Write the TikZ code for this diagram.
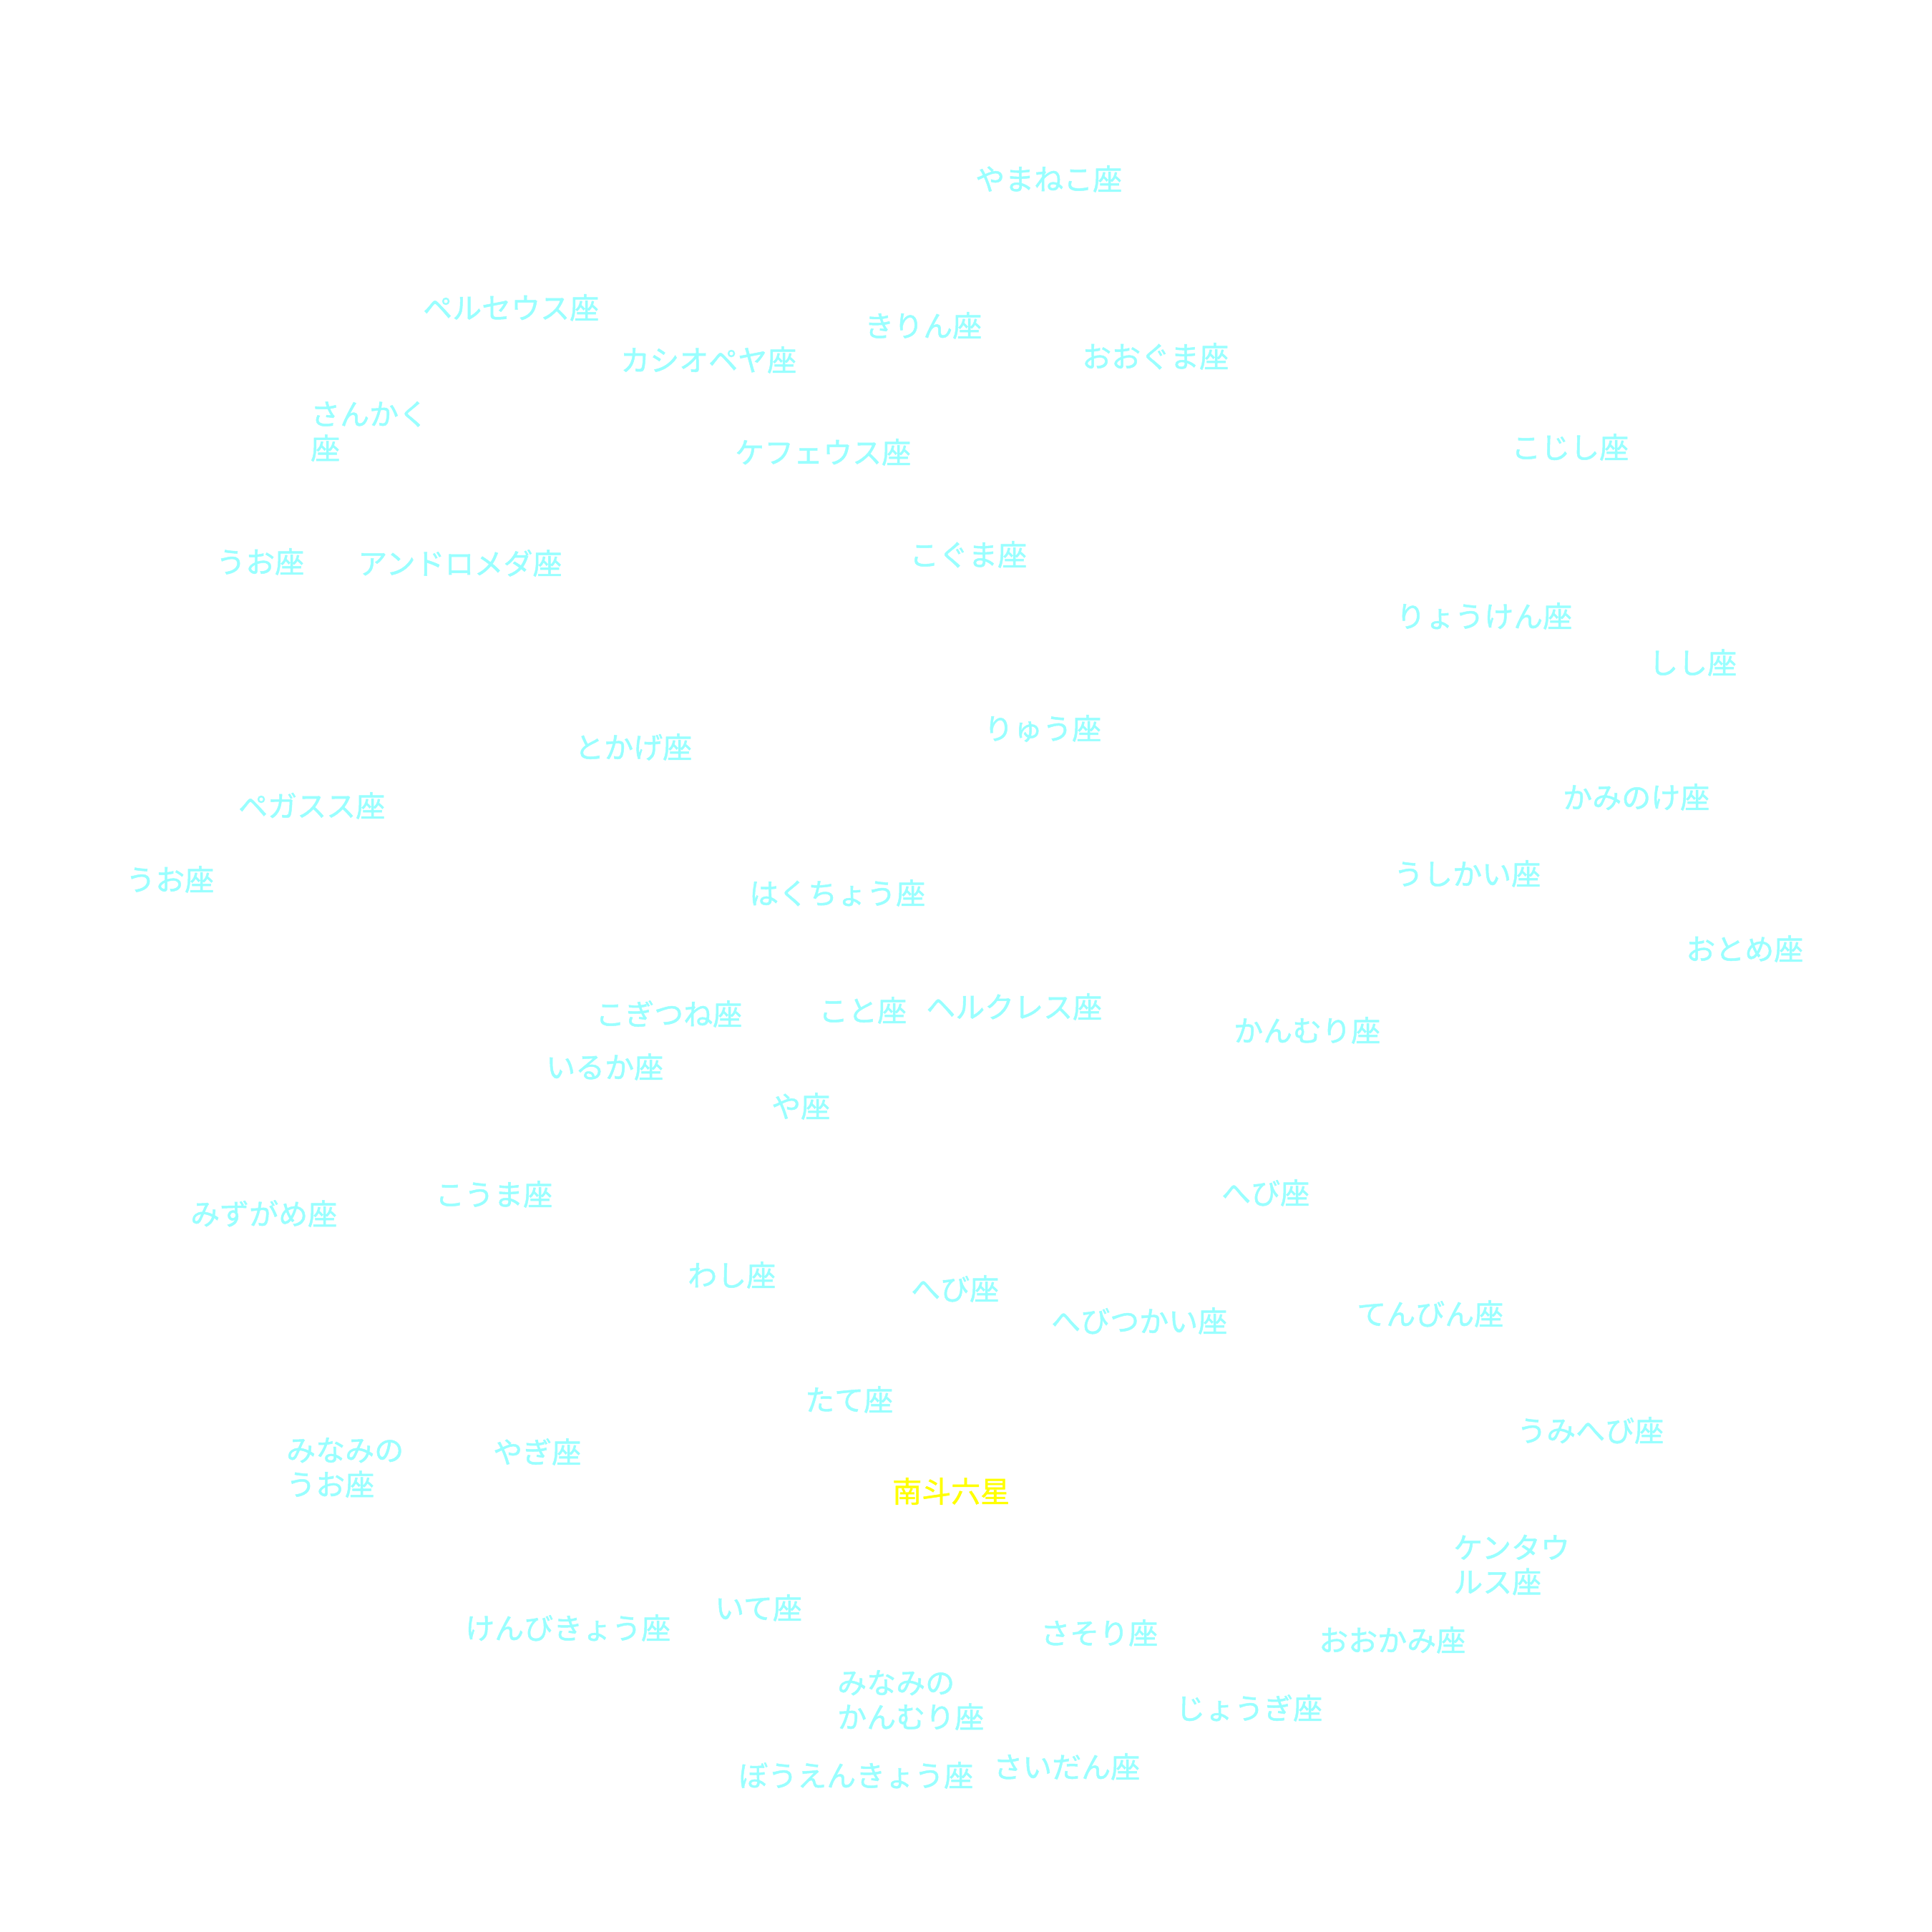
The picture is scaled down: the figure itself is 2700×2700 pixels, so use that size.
\documentclass[tikz,border=0pt]{standalone}
\usepackage{fontspec}
\newfontfamily\jp[FakeBold=1.2]{Noto Sans CJK JP}
\definecolor{lbl}{RGB}{153,255,255}
\definecolor{hl}{RGB}{255,255,0}
\begin{document}
\begin{tikzpicture}[x=1pt,y=-1pt,
  lab/.style={anchor=west,inner sep=0pt,text=lbl,font=\jp\fontsize{41}{48}\selectfont,align=left,xshift=-3pt},
  hlab/.style={lab,text=hl}]
\useasboundingbox (0,0) rectangle (2700,2700);
\node[lab] (n1) at (1366,250) {やまねこ座};
\node[lab] (n2) at (594,430) {ペルセウス座};
\node[lab] (n3) at (1211,455) {きりん座};
\node[lab] (n4) at (870,503) {カシオペヤ座};
\node[lab] (n5) at (1515,498) {おおぐま座};
\node[lab] (n6) at (437,603) {さんかく\\座};
\node[lab] (n7) at (1030,632) {ケフェウス座};
\node[lab] (n8) at (2115,625) {こじし座};
\node[lab] (n9) at (305,785) {うお座};
\node[lab] (n10) at (503,787) {アンドロメダ座};
\node[lab] (n11) at (1274,775) {こぐま座};
\node[lab] (n12) at (1954,861) {りょうけん座};
\node[lab] (n13) at (2307,926) {しし座};
\node[lab] (n14) at (1378,1018) {りゅう座};
\node[lab] (n15) at (806,1044) {とかげ座};
\node[lab] (n16) at (336,1126) {ペガスス座};
\node[lab] (n17) at (2187,1114) {かみのけ座};
\node[lab] (n18) at (179,1229) {うお座};
\node[lab] (n19) at (1951,1221) {うしかい座};
\node[lab] (n20) at (1050,1248) {はくちょう座};
\node[lab] (n21) at (2359,1326) {おとめ座};
\node[lab] (n22) at (835,1417) {こぎつね座};
\node[lab] (n23) at (1147,1412) {こと座};
\node[lab] (n24) at (1297,1407) {ヘルクレス座};
\node[lab] (n25) at (1727,1440) {かんむり座};
\node[lab] (n26) at (766,1491) {いるか座};
\node[lab] (n27) at (1081,1546) {や座};
\node[lab] (n28) at (1710,1667) {へび座};
\node[lab] (n29) at (611,1669) {こうま座};
\node[lab] (n30) at (269,1696) {みずがめ座};
\node[lab] (n31) at (964,1782) {わし座};
\node[lab] (n32) at (1276,1801) {へび座};
\node[lab] (n33) at (1472,1846) {へびつかい座};
\node[lab] (n34) at (1899,1836) {てんびん座};
\node[lab] (n35) at (1128,1956) {たて座};
\node[lab] (n36) at (403,2051) {みなみの\\うお座};
\node[lab] (n37) at (692,2029) {やぎ座};
\node[lab] (n38) at (2123,1999) {うみへび座};
\node[hlab] (n39) at (1250,2084) {南斗六星};
\node[lab] (n40) at (2034,2187) {ケンタウ\\ルス座};
\node[lab] (n41) at (1002,2247) {いて座};
\node[lab] (n42) at (653,2275) {けんびきょう座};
\node[lab] (n43) at (1457,2282) {さそり座};
\node[lab] (n44) at (1846,2292) {おおかみ座};
\node[lab] (n45) at (1173,2376) {みなみの\\かんむり座};
\node[lab] (n46) at (1646,2387) {じょうぎ座};
\node[lab] (n47) at (1035,2481) {ぼうえんきょう座};
\node[lab] (n48) at (1391,2469) {さいだん座};
\end{tikzpicture}
\end{document}
